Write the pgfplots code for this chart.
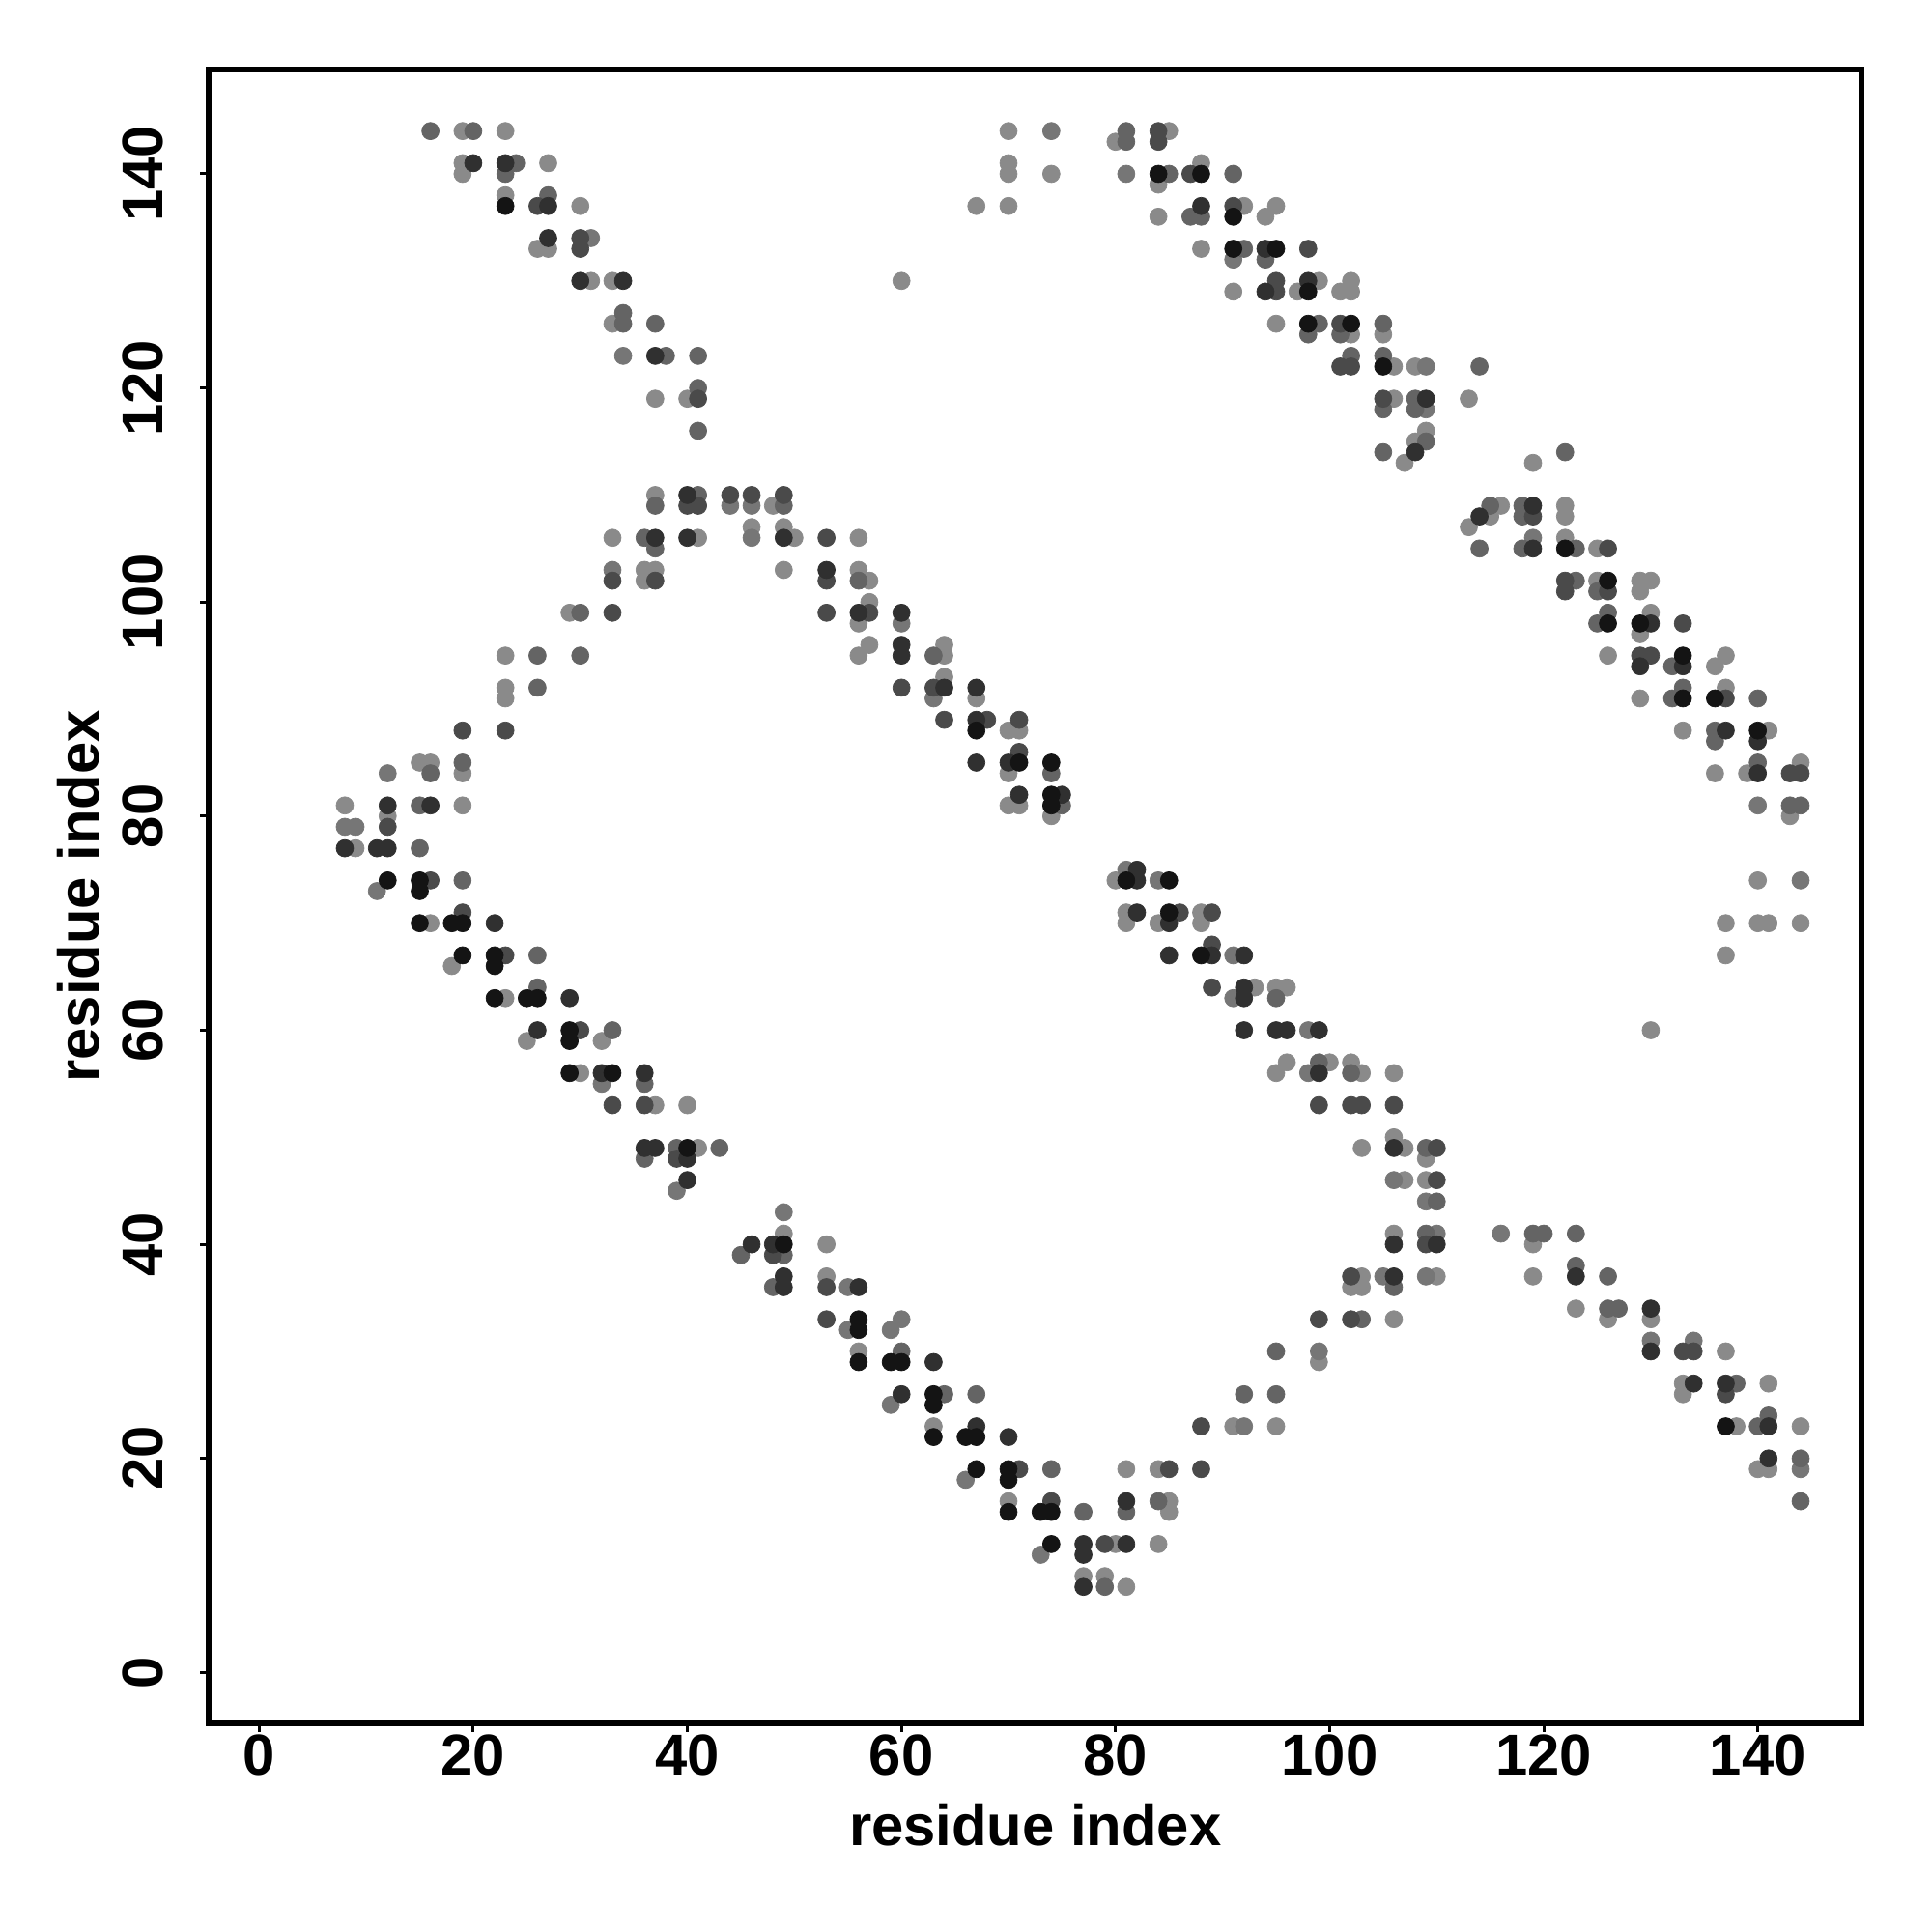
\documentclass[border=0pt]{standalone}
\usepackage{fontspec}
\setmainfont{Liberation Sans}
\usepackage{pgfplots}
\pgfplotsset{compat=1.18}
\definecolor{gA}{HTML}{141414}
\definecolor{gB}{HTML}{303030}
\definecolor{gC}{HTML}{4A4A4A}
\definecolor{gD}{HTML}{646464}
\definecolor{gE}{HTML}{767676}
\definecolor{gF}{HTML}{8A8A8A}
\pgfplotsset{dot/.style={only marks, mark=*, mark size=2.55pt, mark options={draw=#1, fill=#1, line width=0.2pt}}}
\begin{document}
\begin{tikzpicture}
\path[use as bounding box] (0,0) rectangle (200mm,200mm);
\begin{axis}[
  at={(21.6mm,21.63mm)}, anchor=south west,
  scale only axis, width=171.14mm, height=171.14mm,
  xmin=-4.72, xmax=149.72, ymin=-4.72, ymax=149.72,
  xtick={0,20,...,140}, ytick={0,20,...,140},
  xtick pos=bottom, ytick pos=left,
  axis line style={line width=1.7pt},
  tick align=outside, major tick length=0.9mm,
  every tick/.style={black, line width=0.85pt},
  tick label style={font=\fontsize{17}{20}\selectfont\bfseries, inner sep=0pt},
  /pgf/number format/assume math mode=true,
  xticklabel style={anchor=north},
  yticklabel style={rotate=90, anchor=south},
  xticklabel shift=0.25mm, yticklabel shift=3.7mm,
  label style={font=\fontsize{17}{20}\selectfont\bfseries},
  xlabel={residue index}, ylabel={residue index},
  xlabel style={at={(axis description cs:0.5,-0.0742)}, anchor=base, inner sep=0pt},
  ylabel style={at={(axis description cs:-0.0666,0.5)}, anchor=base, inner sep=0pt},
  clip=false
]
% lightest
\addplot[dot=gF] coordinates {
(19,144)(23,144)(19,141)(19,140)(27,141)(23,138)(30,137)(26,133)(27,133)(31,130)(33,130)(33,126)(37,119)(40,119)
(70,144)(80,143)(85,144)(70,141)(70,140)(74,140)(84,139)(88,141)(67,137)(70,137)(84,136)(92,137)(94,136)(95,137)(88,133)(60,130)(91,129)(95,126)
(99,130)(102,130)(97,129)(101,129)(102,129)(102,125)(105,125)(106,122)(108,122)(106,119)(113,119)(109,116)(108,115)(107,113)
(119,113)(116,109)(122,109)(115,108)(122,108)(113,107)(122,106)(125,105)(125,102)(129,102)(130,102)(129,101)(130,99)(129,97)(126,95)(137,95)(136,94)(137,92)(129,91)(133,88)(141,88)(144,85)(136,84)(139,84)(143,80)(140,74)(137,70)(140,70)(141,70)(144,70)(137,67)(130,60)
(37,110)(33,106)(41,106)(36,103)(37,103)(36,102)(29,99)(23,95)(23,92)(23,91)(15,85)(16,85)(19,84)(8,81)(19,81)(12,80)(9,77)(16,70)(18,66)(23,63)(25,59)(32,59)
(48,109)(46,107)(49,107)(50,106)(56,106)(49,103)(56,103)(57,102)(57,100)(56,98)(57,96)(64,96)(56,95)(64,95)(64,93)(67,91)(70,88)(71,88)(70,84)(70,81)(71,81)(74,80)
(30,56)(37,53)(40,53)(41,49)(49,41)(53,40)(53,37)(56,30)
(99,29)(63,23)(91,23)(95,23)(81,19)(84,19)(70,16)(85,16)(85,15)(80,12)(84,12)(77,9)(79,9)(81,8)
(80,74)(81,71)(88,71)(81,70)(84,70)(88,70)(93,64)(95,64)(96,64)(96,57)(100,57)(102,57)(95,56)(103,56)(106,56)(106,50)(103,49)(107,49)(109,48)(107,46)(109,46)(106,41)(103,37)(110,37)(102,36)(103,36)(106,33)
(119,40)(119,37)(123,34)(126,33)(130,33)(137,30)(133,27)(141,27)(133,26)(138,23)(144,23)(140,19)(141,19)
};
\addplot[dot=gE] coordinates {
(31,134)(34,123)(74,144)(81,140)(91,132)(109,122)(109,118)(119,106)(140,81)(144,74)(33,103)(12,84)(8,79)(9,79)(11,73)
(44,109)(46,109)(46,106)(60,98)(63,91)(32,55)(39,45)(49,43)(55,36)(55,32)(60,33)(59,32)(99,30)(59,25)(92,23)(66,18)(73,11)
(81,75)(84,74)(91,67)(91,63)(98,60)(98,56)(106,46)(109,44)(110,41)(116,41)(105,37)(109,37)(130,31)(134,31)(144,19)
};
\addplot[dot=gD] coordinates {
(16,144)(20,144)(24,141)(23,140)(27,138)(34,127)(34,126)(37,126)(38,123)(41,123)(41,120)(41,116)
(81,144)(81,143)(85,140)(91,140)(87,136)(88,136)(92,133)(94,132)(99,126)(105,126)(98,125)(101,125)(102,123)(105,123)(114,122)(108,119)(105,118)(108,118)(109,115)(105,114)
(122,114)(115,109)(118,109)(118,108)(114,105)(118,105)(123,105)(123,102)(125,101)(126,99)(125,98)(132,94)(133,92)(132,91)(140,91)(136,88)(136,87)(140,85)(143,81)(144,81)
(41,110)(37,109)(36,106)(37,105)(30,99)(26,95)(30,95)(26,92)(19,85)(16,84)(15,81)(15,77)(19,74)(26,67)(26,64)(33,60)
(49,109)(56,102)(63,95)(74,84)(75,81)(36,55)(39,49)(43,49)(36,48)(45,39)(49,39)(48,36)(60,30)(95,30)(64,26)(67,26)(92,26)(95,26)(74,19)(84,16)(77,15)(81,15)(79,8)
(95,63)(102,56)(109,49)(110,44)(109,41)(106,36)(103,33)(99,57)(119,41)(120,41)(123,41)(123,38)(126,37)(126,34)(127,34)(138,27)(141,24)(140,23)(144,20)(144,16)
};
\addplot[dot=gC] coordinates {
(26,137)(30,134)(30,133)(41,119)(84,144)(84,143)(87,140)(91,137)(95,130)(98,133)(95,129)(101,126)(101,122)(102,122)(105,119)(119,108)(126,105)(122,102)(122,101)(126,101)(133,98)(129,95)(130,95)(137,91)(143,84)(144,84)
(40,109)(41,109)(33,102)(37,102)(33,99)(19,88)(23,88)(12,79)(16,74)(19,71)(23,67)(30,60)
(44,110)(46,110)(49,110)(53,106)(53,102)(53,99)(57,99)(60,92)(63,92)(64,89)(68,89)(71,89)(71,86)
(33,53)(36,53)(39,48)(48,39)(53,36)(53,33)(99,33)(88,23)(71,19)(85,19)(88,19)(74,16)(79,12)
(86,71)(89,71)(89,68)(89,64)(99,53)(102,53)(103,53)(106,53)(110,49)(110,46)(109,40)(102,37)(102,33)(133,30)(134,30)(137,26)
};
\addplot[dot=gB] coordinates {
(20,141)(23,141)(27,137)(27,134)(30,130)(34,130)(37,123)(88,137)(94,133)(94,129)(98,130)(109,119)(108,114)(119,109)(114,108)(119,105)(130,98)(129,94)(133,94)(137,88)(140,87)(140,84)
(40,110)(37,106)(40,106)(12,81)(16,81)(8,77)(11,77)(12,77)(22,70)(29,63)(26,60)
(49,106)(53,103)(56,99)(60,99)(60,96)(60,95)(64,92)(67,92)(67,89)(67,85)(70,85)(71,82)(75,82)
(32,56)(36,56)(36,49)(37,49)(40,48)(40,46)(46,40)(48,40)(49,37)(49,36)(56,36)(63,29)(60,26)(67,23)(70,22)(81,16)(77,12)(81,12)(77,11)(77,8)
(82,75)(82,74)(82,71)(85,70)(85,67)(89,67)(92,67)(92,64)(92,63)(92,60)(95,60)(96,60)(99,60)(99,56)(106,49)(106,40)(110,40)(106,37)(123,37)(130,34)(130,30)(134,27)(137,27)(141,23)(141,20)
};
\addplot[dot=gA] coordinates {
(23,137)(84,140)(88,140)(91,136)(91,133)(95,133)(98,129)(98,126)(102,126)(105,122)(122,105)(126,102)(126,98)(129,98)(133,95)(133,91)(136,91)(140,88)
(12,74)(15,74)(15,73)(15,70)(18,70)(19,70)(19,67)(22,67)(22,66)(22,63)(25,63)(26,63)(29,60)(29,59)
(67,88)(71,85)(74,85)(74,82)(74,81)(29,56)(33,56)(40,49)(49,40)(56,33)(56,32)(56,29)(59,29)(60,29)(63,26)(63,25)(63,22)(66,22)(67,22)(67,19)(70,19)(70,18)(70,15)(73,15)(74,15)(74,12)
(81,74)(85,74)(85,71)(88,67)(137,23)
};
\end{axis}
\end{tikzpicture}
\end{document}
